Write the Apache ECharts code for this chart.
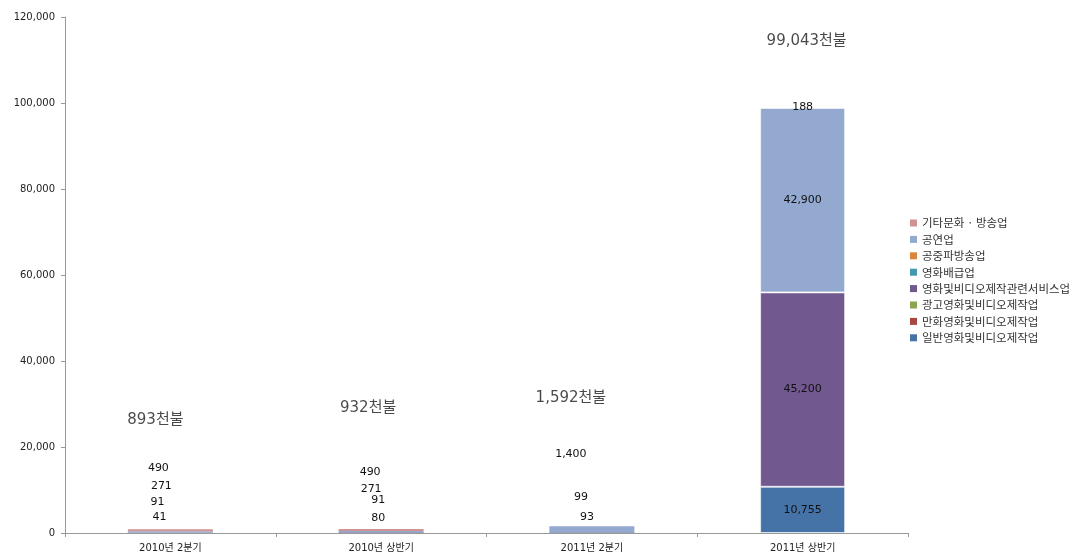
<!DOCTYPE html>
<html>
<head>
<meta charset="utf-8">
<script src="https://cdn.jsdelivr.net/npm/echarts@6/dist/echarts.min.js"></script>
<style>
html,body{margin:0;padding:0;background:#fff;}
#chart{width:1080px;height:557px;}
</style>
</head>
<body>
<div id="chart"></div>
<script>
// ---- data ----
const categories = ['2010년 2분기', '2010년 상반기', '2011년 2분기', '2011년 상반기'];
const seriesNames = [
  '일반영화및비디오제작업',
  '만화영화및비디오제작업',
  '광고영화및비디오제작업',
  '영화및비디오제작관련서비스업',
  '영화배급업',
  '공중파방송업',
  '공연업',
  '기타문화 · 방송업'
];
const general   = [41, 80, 93, 10755];
const animation = [null, null, null, null];
const advert    = [null, null, null, null];
const service   = [91, 91, 99, 45200];
const distrib   = [null, null, null, null];
const broadcast = [null, null, null, null];
const perform   = [271, 271, 1400, 42900];
const etc       = [490, 490, null, 188];
const yTicks = [0, 20000, 40000, 60000, 80000, 100000, 120000];
const totalUnit = '천불';

// ---- styling ----
const colors = ['#4572A7', '#AA4643', '#89A54E', '#71588F', '#4198AF', '#DB843D', '#93A9CF', '#D19392'];
const seriesValues = [general, animation, advert, service, distrib, broadcast, perform, etc];
// label offsets for small segments (moved labels, as in the original)
const labelOffsets = {
  0: [[-11, -16], [-3, -15], [-5, -16], [0, 0]],
  3: [[-13, -30], [-3, -32], [-11, -35], [0, 0]],
  6: [[-9, -46], [-10, -43], [-21, -75], [0, 0]],
  7: [[-12, -62], [-11, -58], [0, 0], [0, 0]]
};
const totalOffsets = [[-15, -109], [-13, -121], [-21, -128], [4, -66]];
const bigBarCategory = 3;

const fmt = v => Number(v).toLocaleString('en-US');
const FONT = '"DejaVu Sans", "Noto Sans CJK KR", sans-serif';

const totals = categories.map((c, i) =>
  seriesValues.reduce((s, arr) => s + (arr[i] || 0), 0));

const barSeries = seriesNames.map((name, si) => ({
  name,
  type: 'bar',
  stack: 'total',
  barWidth: 85,
  itemStyle: { color: colors[si], borderWidth: 0 },
  data: seriesValues[si].map((v, ci) => {
    if (v == null) return null;
    const off = (labelOffsets[si] && labelOffsets[si][ci]) || [0, 0];
    const item = {
      value: v,
      label: { show: true, position: 'inside', offset: off }
    };
    if (ci === bigBarCategory) {
      item.itemStyle = { borderColor: 'rgba(255,255,255,0.6)', borderWidth: 1 };
    }
    return item;
  }),
  label: {
    show: true,
    formatter: p => fmt(p.value),
    color: '#111',
    fontFamily: FONT,
    fontSize: 11
  }
}));

const totalSeries = {
  name: '합계',
  type: 'scatter',
  symbolSize: 0,
  silent: true,
  z: 10,
  data: totals.map((t, i) => ({
    value: t,
    label: { offset: totalOffsets[i] }
  })),
  label: {
    show: true,
    position: 'inside',
    formatter: p => fmt(p.value) + totalUnit,
    color: '#1a1a1a',
    fontFamily: FONT,
    fontSize: 15
  }
};

const chart = echarts.init(document.getElementById('chart'));
chart.setOption({
  animation: false,
  backgroundColor: '#fff',
  textStyle: { fontFamily: FONT },
  grid: { left: 65, right: 172, top: 17, bottom: 24, containLabel: false },
  legend: {
    orient: 'vertical',
    left: 905,
    top: 212,
    data: seriesNames.slice().reverse(),
    icon: 'rect',
    itemWidth: 7,
    itemHeight: 7,
    itemGap: 4.4,
    textStyle: { fontSize: 11.5, color: '#333', lineHeight: 12, fontFamily: '"Noto Sans CJK KR", sans-serif' }
  },
  xAxis: {
    type: 'category',
    data: categories,
    axisLine: { lineStyle: { color: '#999' } },
    axisTick: { show: true, length: 4, lineStyle: { color: '#999' } },
    axisLabel: { color: '#222', fontSize: 10, margin: 10, fontFamily: FONT }
  },
  yAxis: {
    type: 'value',
    min: yTicks[0],
    max: yTicks[yTicks.length - 1],
    interval: yTicks[1] - yTicks[0],
    splitLine: { show: false },
    axisLine: { show: true, lineStyle: { color: '#999' } },
    axisTick: { show: true, length: 4, lineStyle: { color: '#999' } },
    axisLabel: { color: '#222', fontSize: 10, margin: 10, formatter: v => fmt(v), fontFamily: FONT }
  },
  series: [...barSeries, totalSeries]
});
</script>
</body>
</html>
